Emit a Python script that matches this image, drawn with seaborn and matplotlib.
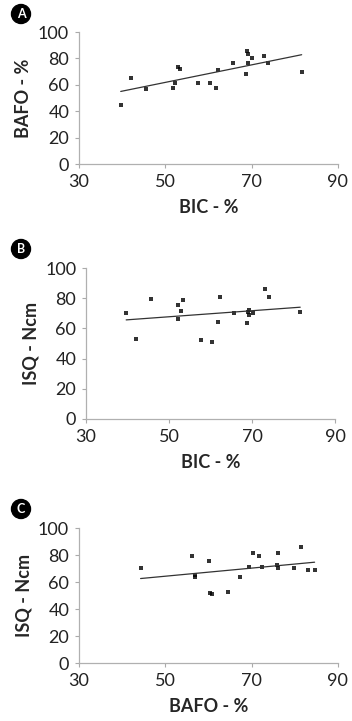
import numpy as np
import pandas as pd
import matplotlib
matplotlib.use("Agg")
import matplotlib.pyplot as plt
import seaborn as sns

# panel A: BIC vs BAFO
bic_a = [39.7, 42.0, 45.5, 51.9, 52.2, 52.9, 53.4, 57.7, 60.3, 61.8,
         62.3, 65.7, 68.8, 69.0, 69.2, 69.2, 70.1, 72.9, 73.9, 81.6]
bafo_a = [45.0, 65.5, 56.9, 57.4, 61.2, 73.4, 72.3, 61.4, 61.4, 57.9,
          71.3, 76.9, 68.0, 85.3, 83.5, 76.4, 80.5, 82.2, 76.9, 70.0]

# panel B: BIC vs ISQ
bic_b = [39.7, 42.0, 45.7, 52.1, 52.2, 52.9, 53.4, 57.7, 60.4, 61.8,
         62.2, 65.7, 68.8, 69.0, 69.2, 69.2, 70.2, 73.1, 74.0, 81.6]
isq_b = [70.6, 53.0, 79.7, 66.0, 75.5, 71.5, 79.0, 52.1, 51.2, 64.2,
         81.2, 70.6, 63.8, 71.0, 72.4, 68.9, 70.6, 86.3, 81.2, 71.1]

# panel C: BAFO vs ISQ
bafo_c = [44.3, 56.2, 57.0, 57.0, 60.2, 60.4, 60.9, 64.5, 67.3, 69.4,
          70.4, 71.7, 72.4, 75.9, 76.1, 76.1, 79.8, 81.5, 83.0, 84.6]
isq_c = [70.7, 79.7, 65.5, 64.0, 75.7, 52.1, 51.4, 52.9, 64.0, 71.0,
         81.4, 79.2, 71.5, 72.5, 81.4, 70.5, 70.7, 86.4, 69.2, 68.7]

panels = [
    ("A", bic_a, bafo_a, "BIC - %", "BAFO - %", [0.224, 0.7725, 0.736, 0.183], 14),
    ("B", bic_b, isq_b, "BIC - %", "ISQ - Ncm", [0.244, 0.419, 0.708, 0.209], 249),
    ("C", bafo_c, isq_c, "BAFO - %", "ISQ - Ncm", [0.224, 0.0804, 0.736, 0.187], 509),
]

sns.set_style("white")
plt.rcParams['font.family'] = ['Lato', 'DejaVu Sans']

fig = plt.figure(figsize=(3.52, 7.21), dpi=100)

for letter, xs, ys, xlab, ylab, rect, badge_y in panels:
    ax = fig.add_axes(rect)
    df = pd.DataFrame({"x": xs, "y": ys})
    sns.regplot(data=df, x="x", y="y", ax=ax, ci=None, marker="s",
                color="black", scatter_kws={"s": 9, "linewidths": 0},
                line_kws={"color": "#333333", "lw": 0.9})
    ax.set_xlim(30, 90)
    ax.set_ylim(0, 100)
    ax.set_xticks([30, 50, 70, 90])
    ax.set_yticks([0, 20, 40, 60, 80, 100])
    ax.tick_params(labelsize=13, length=3, color="#aaaaaa", colors="#222222",
                   left=True, bottom=True, pad=4)
    for s in ["top", "right"]:
        ax.spines[s].set_visible(False)
    for s in ["left", "bottom"]:
        ax.spines[s].set_color("#b0b0b0")
        ax.spines[s].set_linewidth(0.9)
    ax.set_xlabel(xlab, fontsize=13, fontweight="bold", labelpad=7)
    ax.set_ylabel(ylab, fontsize=13, fontweight="bold", labelpad=4)
    fig.text(21 / 352, 1 - badge_y / 721, letter, fontsize=9, fontweight="bold",
             color="white", ha="center", va="center",
             bbox=dict(boxstyle="circle,pad=0.28", fc="black", ec="black"))

fig.savefig("out.png", dpi=100)
